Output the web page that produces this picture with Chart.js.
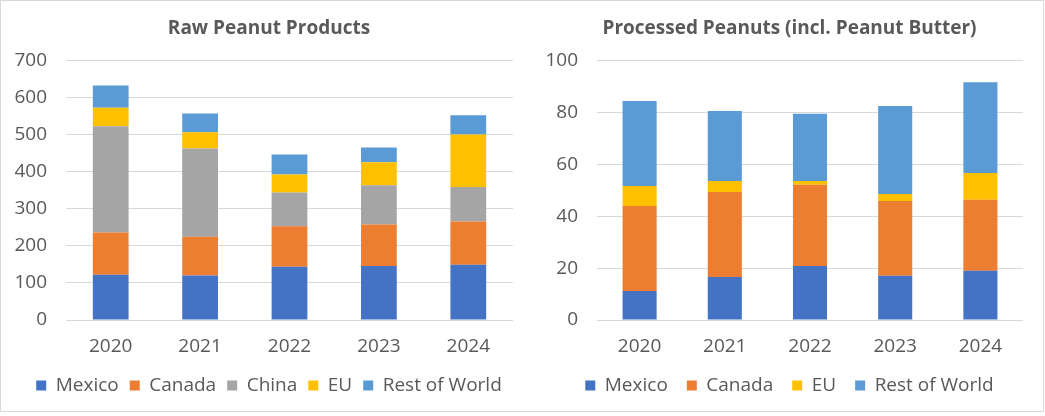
<!DOCTYPE html>
<html>
<head>
<meta charset="utf-8">
<script src="https://cdn.jsdelivr.net/npm/chart.js@4.4.1/dist/chart.umd.min.js"></script>
<style>
  html, body { margin: 0; padding: 0; background: #ffffff; }
  .panel { position: absolute; top: 0; height: 410px; border: 1px solid #d9d9d9; background: #fff; }
  #p1 { left: 0; width: 529px; }
  #p2 { left: 530px; width: 513px; border-left: none; }
  canvas { display: block; }
</style>
</head>
<body>
<div class="panel" id="p1"><canvas id="rawChart" width="529" height="410"></canvas></div>
<div class="panel" id="p2"><canvas id="procChart" width="513" height="410"></canvas></div>
<script>
// =============================
// DATA
// =============================
const years = ["2020", "2021", "2022", "2023", "2024"];

// Raw peanut products
const rawMexico = [122, 120, 144, 146, 149];
const rawCanada = [114, 105, 109, 112, 117];
const rawChina  = [287, 238, 91, 106, 93];
const rawEU     = [50, 44, 49, 62, 142];
const rawRest   = [60, 51, 54, 40, 52];

// Processed peanuts (incl. peanut butter)
const procMexico = [11.2, 16.6, 20.8, 17.1, 19.0];
const procCanada = [32.8, 32.8, 31.4, 28.8, 27.4];
const procEU     = [7.7, 4.2, 1.4, 2.7, 10.3];
const procRest   = [32.8, 27.0, 26.0, 34.0, 35.0];

const rawTicks = { max: 700, step: 100 };
const procTicks = { max: 100, step: 20 };

// =============================
// STYLE
// =============================
const COLORS = {
    mexico: "#4472C4",
    canada: "#ED7D31",
    china: "#A5A5A5",
    eu: "#FFC000",
    rest: "#5B9BD5"
};
const TEXT = "#595959";
const GRID = "#d9d9d9";
const FONT = "'Open Sans', 'Noto Sans', sans-serif";
const SIZE = 19;

// borde inferior de la zona de barras y de la leyenda (px en el canvas)
const PLOT_BOTTOM = 319;
const LEGEND_BOTTOM = 404;

function serie(label, data, color) {
    return {
        label: label,
        data: data,
        yAxisID: "y",
        backgroundColor: color,
        borderWidth: 0,
        categoryPercentage: 1.0,
        barPercentage: 0.4
    };
}

// caja: padding izquierdo, ancho eje y, margen derecho, separacion de la leyenda
function crearGrafica(id, titulo, datasets, ticks, caja) {
    const ctx = document.getElementById(id).getContext("2d");
    const legendHeight = SIZE + caja.legendGap + 10;
    return new Chart(ctx, {
        type: "bar",
        data: { labels: years, datasets: datasets },
        options: {
            responsive: false,
            animation: false,
            layout: { padding: { left: caja.left, right: 0, top: 0, bottom: 6 } },
            plugins: {
                tooltip: { enabled: false },
                title: {
                    display: true,
                    text: titulo,
                    color: TEXT,
                    font: { family: FONT, size: SIZE, weight: "bold" },
                    padding: { top: 16, bottom: 21 }
                },
                legend: {
                    position: "bottom",
                    labels: {
                        color: TEXT,
                        font: { family: FONT, size: SIZE },
                        boxWidth: 10,
                        boxHeight: 10,
                        padding: caja.legendGap
                    }
                }
            },
            scales: {
                x: {
                    stacked: true,
                    grid: { display: false },
                    border: { display: false },
                    ticks: {
                        color: TEXT,
                        font: { family: FONT, size: SIZE },
                        padding: 7,
                        maxRotation: 0
                    },
                    afterFit: (scale) => { scale.height = LEGEND_BOTTOM - PLOT_BOTTOM - legendHeight; }
                },
                y: {
                    stacked: true,
                    min: 0,
                    max: ticks.max,
                    grid: { color: GRID, lineWidth: 1, drawTicks: false },
                    border: { display: false },
                    ticks: {
                        stepSize: ticks.step,
                        color: TEXT,
                        font: { family: FONT, size: SIZE },
                        padding: 19
                    },
                    afterFit: (scale) => { scale.width = caja.axis; }
                },
                // eje vacio a la derecha, solo reserva margen
                margen: {
                    type: "linear",
                    position: "right",
                    grid: { display: false },
                    border: { display: false },
                    ticks: { display: false },
                    afterFit: (scale) => { scale.width = caja.right; }
                }
            }
        }
    });
}

crearGrafica("rawChart", "Raw Peanut Products", [
    serie("Mexico", rawMexico, COLORS.mexico),
    serie("Canada", rawCanada, COLORS.canada),
    serie("China", rawChina, COLORS.china),
    serie("EU", rawEU, COLORS.eu),
    serie("Rest of World", rawRest, COLORS.rest)
], rawTicks, { left: 7, axis: 58, right: 17, legendGap: 11 });

crearGrafica("procChart", "Processed Peanuts (incl. Peanut Butter)", [
    serie("Mexico", procMexico, COLORS.mexico),
    serie("Canada", procCanada, COLORS.canada),
    serie("EU", procEU, COLORS.eu),
    serie("Rest of World", procRest, COLORS.rest)
], procTicks, { left: 6, axis: 61, right: 20, legendGap: 19 });
</script>
</body>
</html>
